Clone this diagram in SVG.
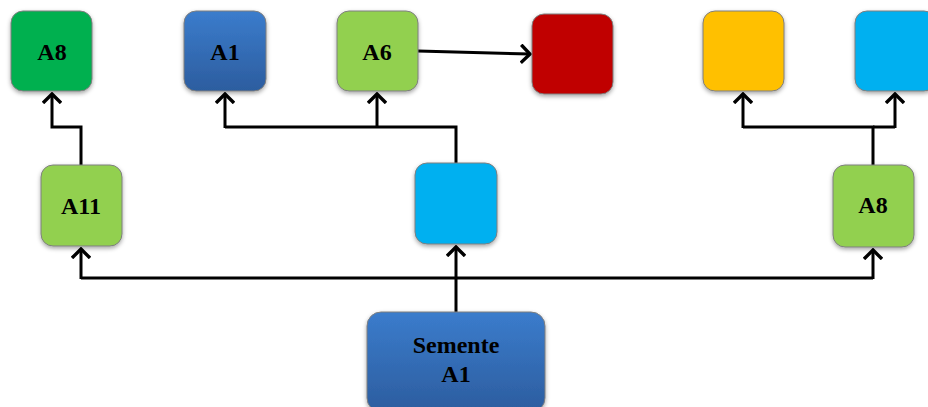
<svg xmlns="http://www.w3.org/2000/svg" width="928" height="407" viewBox="0 0 928 407">
<defs>
<linearGradient id="blue" x1="0" y1="0" x2="0" y2="1">
<stop offset="0" stop-color="#3B7CCC"/>
<stop offset="1" stop-color="#2C5D9F"/>
</linearGradient>
<filter id="sh" x="-20%" y="-20%" width="140%" height="150%">
<feDropShadow dx="0" dy="2" stdDeviation="2" flood-color="#000" flood-opacity="0.35"/>
</filter>
<marker id="arr" viewBox="0 0 12 20" refX="10" refY="10" markerWidth="12" markerHeight="20" markerUnits="userSpaceOnUse" orient="auto">
<polyline points="1,1 10,10 1,19" fill="none" stroke="#000" stroke-width="3.4"/>
</marker>
</defs>
<style>
.box{stroke:#7F7F7F;stroke-width:1;filter:url(#sh)}
.lbl{font-family:"Liberation Serif","Times New Roman",serif;font-weight:bold;font-size:24px;fill:#000;text-anchor:middle}
.c{fill:none;stroke:#000;stroke-width:3}
.a{marker-end:url(#arr)}
</style>
<g id="connectors">
<polyline class="c a" points="81,165 81,127 52,127 52,94"/>
<polyline class="c" points="456,163 456,127 225,127"/>
<line class="c a" x1="225" y1="128" x2="225" y2="94"/>
<line class="c a" x1="377" y1="128" x2="377" y2="94"/>
<line class="c a" x1="418" y1="51" x2="530" y2="54"/>
<polyline class="c" points="873,165 873,127 743,127"/>
<line class="c" x1="873" y1="127" x2="895" y2="127"/>
<line class="c a" x1="743" y1="128" x2="743" y2="94"/>
<line class="c a" x1="895" y1="128" x2="895" y2="94"/>
<line class="c a" x1="456" y1="312" x2="456" y2="247"/>
<line class="c" x1="81" y1="278" x2="873" y2="278"/>
<line class="c a" x1="81" y1="279" x2="81" y2="249"/>
<line class="c a" x1="873" y1="279" x2="873" y2="250"/>
</g>
<g id="n_a8top"><rect class="box" x="11" y="11" width="81" height="80" rx="12" fill="#00B050"/><text class="lbl" x="52" y="60">A8</text></g>
<g id="n_a1top"><rect class="box" x="184" y="11" width="82" height="80" rx="12" fill="url(#blue)"/><text class="lbl" x="225" y="60">A1</text></g>
<g id="n_a6"><rect class="box" x="337" y="11" width="81" height="80" rx="12" fill="#92D050"/><text class="lbl" x="377" y="60">A6</text></g>
<g id="n_red"><rect class="box" x="532" y="14" width="81" height="80" rx="12" fill="#C00000"/></g>
<g id="n_orange"><rect class="box" x="703" y="11" width="81" height="80" rx="12" fill="#FFC000"/></g>
<g id="n_cyantop"><rect class="box" x="855" y="11" width="81" height="80" rx="12" fill="#00B0F0"/></g>
<g id="n_a11"><rect class="box" x="41" y="165" width="81" height="81" rx="12" fill="#92D050"/><text class="lbl" x="81" y="214">A11</text></g>
<g id="n_cyanmid"><rect class="box" x="415" y="163" width="82" height="81" rx="12" fill="#00B0F0"/></g>
<g id="n_a8right"><rect class="box" x="833" y="165" width="81" height="82" rx="12" fill="#92D050"/><text class="lbl" x="873" y="213">A8</text></g>
<g id="n_semente"><rect class="box" x="367" y="312" width="178" height="100" rx="14" fill="url(#blue)"/><text class="lbl" x="456" y="353">Semente</text><text class="lbl" x="456" y="382">A1</text></g>
</svg>
